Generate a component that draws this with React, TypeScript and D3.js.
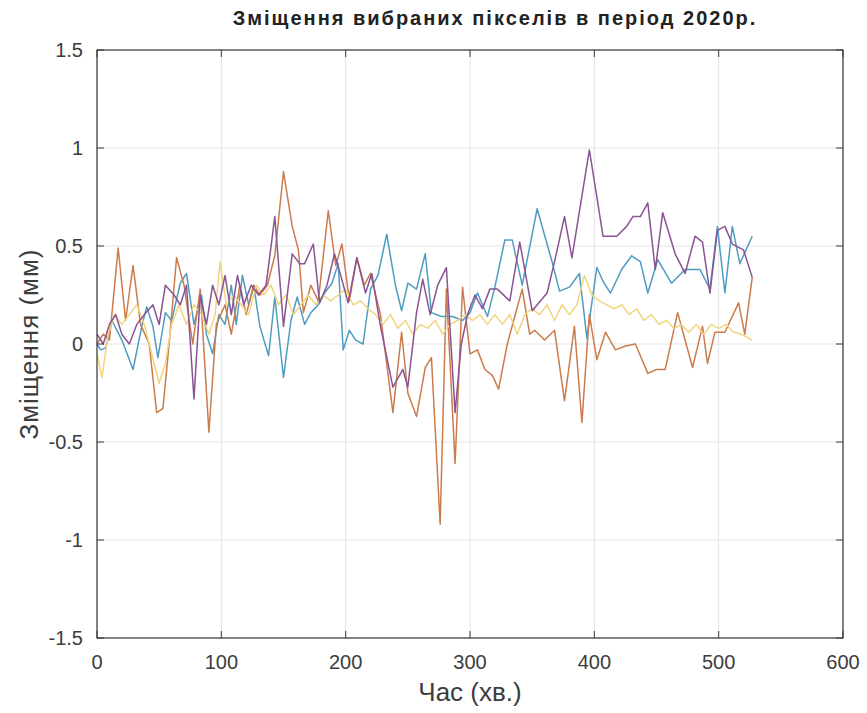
import React from "react";
import * as d3 from "d3";

const TITLE = "Зміщення вибраних пікселів в період 2020р.";
const X_LABEL = "Час (хв.)";
const Y_LABEL = "Зміщення (мм)";
const X_TICKS = [0, 100, 200, 300, 400, 500, 600];
const Y_TICKS = [-1.5, -1, -0.5, 0, 0.5, 1, 1.5];

const blueT = [0, 3, 7, 12, 20, 29, 36, 40, 45, 49, 55, 60, 67, 72, 78, 84, 88, 93, 98, 103, 108, 112, 117, 122, 126, 131, 138, 143, 150, 156, 161, 167, 172, 178, 183, 189, 194, 198, 203, 208, 214, 220, 226, 233, 240, 245, 250, 257, 264, 269, 277, 286, 294, 300, 306, 314, 320, 328, 334, 342, 354, 366, 372, 380, 388, 394, 402, 407, 413, 422, 430, 437, 443, 451, 462, 473, 485, 493, 499, 505, 511, 517, 527];
const blueV = [0.0, -0.03, -0.02, 0.12, 0.02, -0.13, 0.09, 0.19, 0.09, -0.07, 0.16, 0.12, 0.31, 0.36, 0.1, 0.25, 0.05, -0.05, 0.15, 0.1, 0.3, 0.1, 0.35, 0.2, 0.3, 0.09, -0.06, 0.24, -0.17, 0.12, 0.24, 0.1, 0.16, 0.2, 0.26, 0.31, 0.41, -0.03, 0.07, 0.02, 0.0, 0.28, 0.35, 0.56, 0.3, 0.17, 0.31, 0.28, 0.46, 0.16, 0.14, 0.14, 0.12, 0.16, 0.26, 0.14, 0.29, 0.53, 0.53, 0.3, 0.69, 0.42, 0.27, 0.29, 0.36, 0.03, 0.39, 0.32, 0.26, 0.38, 0.45, 0.42, 0.26, 0.43, 0.31, 0.38, 0.38, 0.28, 0.6, 0.26, 0.6, 0.41, 0.55];

const orangeT = [0, 5, 10, 17, 23, 29, 35, 42, 48, 53, 58, 64, 70, 77, 83, 90, 96, 103, 108, 115, 120, 126, 131, 137, 143, 150, 157, 162, 166, 172, 178, 186, 192, 197, 203, 209, 215, 220, 228, 233, 238, 245, 250, 257, 264, 269, 276, 281, 288, 294, 300, 306, 312, 318, 323, 330, 336, 342, 348, 352, 360, 368, 376, 384, 390, 396, 402, 409, 417, 425, 433, 443, 450, 457, 467, 479, 487, 491, 497, 505, 516, 521, 527];
const orangeV = [0.0, 0.05, 0.02, 0.49, 0.12, 0.4, 0.1, 0.0, -0.35, -0.33, 0.0, 0.44, 0.3, 0.0, 0.28, -0.45, 0.1, 0.2, 0.05, 0.3, 0.15, 0.3, 0.25, 0.3, 0.45, 0.88, 0.6, 0.48, 0.16, 0.3, 0.22, 0.68, 0.4, 0.51, 0.22, 0.44, 0.3, 0.36, 0.15, -0.1, -0.35, 0.06, -0.25, -0.37, -0.12, -0.07, -0.92, 0.28, -0.61, 0.29, -0.05, -0.03, -0.13, -0.16, -0.23, 0.0, 0.14, 0.28, 0.05, 0.07, 0.02, 0.07, -0.29, 0.09, -0.4, 0.15, -0.08, 0.06, -0.03, -0.01, 0.0, -0.15, -0.13, -0.13, 0.16, -0.12, 0.09, -0.1, 0.06, 0.06, 0.21, 0.05, 0.34];

const yellowT = [0, 4, 9, 14, 20, 26, 32, 38, 44, 50, 55, 60, 66, 72, 78, 84, 90, 95, 99, 104, 110, 116, 122, 128, 134, 140, 146, 152, 158, 164, 170, 176, 182, 188, 194, 200, 206, 212, 218, 224, 230, 236, 242, 248, 254, 260, 266, 272, 278, 284, 290, 296, 302, 308, 314, 320, 326, 332, 338, 344, 350, 356, 362, 368, 374, 380, 386, 392, 398, 404, 410, 416, 422, 428, 434, 440, 446, 452, 458, 464, 470, 476, 482, 488, 494, 500, 506, 512, 518, 524, 527];
const yellowV = [-0.05, -0.17, 0.05, 0.15, 0.1, 0.15, 0.2, 0.1, -0.05, -0.2, -0.1, 0.1, 0.2, 0.1, 0.2, 0.15, 0.05, 0.15, 0.42, 0.2, 0.25, 0.2, 0.15, 0.3, 0.25, 0.3, 0.2, 0.25, 0.15, 0.2, 0.25, 0.2, 0.25, 0.22, 0.25, 0.28, 0.2, 0.22, 0.18, 0.15, 0.1, 0.15, 0.08, 0.12, 0.05, 0.1, 0.08, 0.12, 0.05, 0.1, 0.12, 0.15, 0.12, 0.15, 0.1, 0.15, 0.1, 0.15, 0.05, 0.15, 0.18, 0.15, 0.2, 0.12, 0.2, 0.15, 0.2, 0.35, 0.25, 0.22, 0.2, 0.18, 0.2, 0.15, 0.18, 0.12, 0.15, 0.1, 0.12, 0.08, 0.1, 0.06, 0.1, 0.05, 0.1, 0.08, 0.1, 0.06, 0.05, 0.03, 0.02];

const purpleT = [0, 5, 10, 15, 20, 26, 32, 38, 45, 50, 55, 62, 67, 72, 78, 83, 88, 93, 98, 103, 108, 113, 118, 124, 130, 136, 143, 150, 157, 163, 167, 174, 179, 185, 191, 196, 202, 209, 216, 221, 228, 238, 246, 250, 257, 262, 268, 274, 281, 288, 293, 298, 304, 310, 316, 322, 332, 340, 350, 362, 368, 376, 382, 396, 407, 418, 426, 431, 437, 443, 449, 455, 465, 473, 481, 487, 493, 499, 505, 511, 520, 527];
const purpleV = [0.05, 0.0, 0.1, 0.15, 0.05, 0.0, 0.1, 0.15, 0.2, 0.1, 0.3, 0.25, 0.2, 0.3, -0.28, 0.25, 0.1, 0.3, 0.2, 0.35, 0.15, 0.35, 0.2, 0.3, 0.25, 0.3, 0.65, 0.09, 0.46, 0.41, 0.41, 0.51, 0.21, 0.3, 0.46, 0.35, 0.21, 0.44, 0.26, 0.36, 0.09, -0.22, -0.13, -0.22, 0.16, 0.33, 0.15, 0.3, 0.39, -0.35, 0.0, 0.15, 0.25, 0.18, 0.28, 0.28, 0.22, 0.52, 0.17, 0.26, 0.42, 0.65, 0.44, 0.99, 0.55, 0.55, 0.6, 0.65, 0.65, 0.72, 0.38, 0.67, 0.46, 0.36, 0.55, 0.52, 0.26, 0.58, 0.6, 0.51, 0.48, 0.34];

const SERIES = [
  { name: "s1", t: blueT, v: blueV, color: "#4f9cc2" },
  { name: "s2", t: orangeT, v: orangeV, color: "#cc7b4c" },
  { name: "s3", t: yellowT, v: yellowV, color: "#f1d47e" },
  { name: "s4", t: purpleT, v: purpleV, color: "#8a5393" },
];

const W = 867;
const H = 713;
const M = { left: 97, right: 843, top: 50, bottom: 638 };

export default function App() {
  const x = d3.scaleLinear().domain([0, 600]).range([M.left, M.right]);
  const y = d3.scaleLinear().domain([-1.5, 1.5]).range([M.bottom, M.top]);
  const line = d3
    .line<[number, number]>()
    .x((d) => x(d[0]))
    .y((d) => y(d[1]));
  const font = "'Liberation Sans', Arial, Helvetica, sans-serif";
  const axisColor = "#3a3a3a";
  const textColor = "#3c3c3c";
  return (
    <svg
      width={W}
      height={H}
      style={{ position: "absolute", left: 0, top: 0, background: "#fff" }}
      fontFamily={font}
    >
      <rect x={0} y={0} width={W} height={H} fill="#fff" />
      {X_TICKS.map((t) => (
        <line key={"gx" + t} x1={x(t)} x2={x(t)} y1={M.top} y2={M.bottom} stroke="#e4e4e4" strokeWidth={1} />
      ))}
      {Y_TICKS.map((t) => (
        <line key={"gy" + t} x1={M.left} x2={M.right} y1={y(t)} y2={y(t)} stroke="#e4e4e4" strokeWidth={1} />
      ))}
      {SERIES.map((s) => (
        <path
          key={s.name}
          d={line(s.t.map((t, i) => [t, s.v[i]] as [number, number])) || ""}
          fill="none"
          stroke={s.color}
          strokeWidth={1.5}
          strokeLinejoin="round"
        />
      ))}
      <rect x={M.left} y={M.top} width={M.right - M.left} height={M.bottom - M.top} fill="none" stroke={axisColor} strokeWidth={1.2} />
      {X_TICKS.map((t) => (
        <g key={"tx" + t}>
          <line x1={x(t)} x2={x(t)} y1={M.bottom} y2={M.bottom - 7} stroke={axisColor} />
          <line x1={x(t)} x2={x(t)} y1={M.top} y2={M.top + 7} stroke={axisColor} />
          <text x={x(t)} y={M.bottom + 31} textAnchor="middle" fontSize={20} fill={textColor}>
            {String(t)}
          </text>
        </g>
      ))}
      {Y_TICKS.map((t) => (
        <g key={"ty" + t}>
          <line x1={M.left} x2={M.left + 7} y1={y(t)} y2={y(t)} stroke={axisColor} />
          <line x1={M.right} x2={M.right - 7} y1={y(t)} y2={y(t)} stroke={axisColor} />
          <text x={M.left - 14} y={y(t) + 7} textAnchor="end" fontSize={20} fill={textColor}>
            {String(t)}
          </text>
        </g>
      ))}
      <text x={495} y={25} textAnchor="middle" fontSize={20} fontWeight="bold" fill="#222" letterSpacing={2}>
        {TITLE}
      </text>
      <text x={x(300)} y={701} textAnchor="middle" fontSize={26} fill={textColor}>
        {X_LABEL}
      </text>
      <text
        transform={`translate(38, ${y(0)}) rotate(-90)`}
        textAnchor="middle"
        fontSize={26}
        fill={textColor}
        letterSpacing={1}
      >
        {Y_LABEL}
      </text>
    </svg>
  );
}
